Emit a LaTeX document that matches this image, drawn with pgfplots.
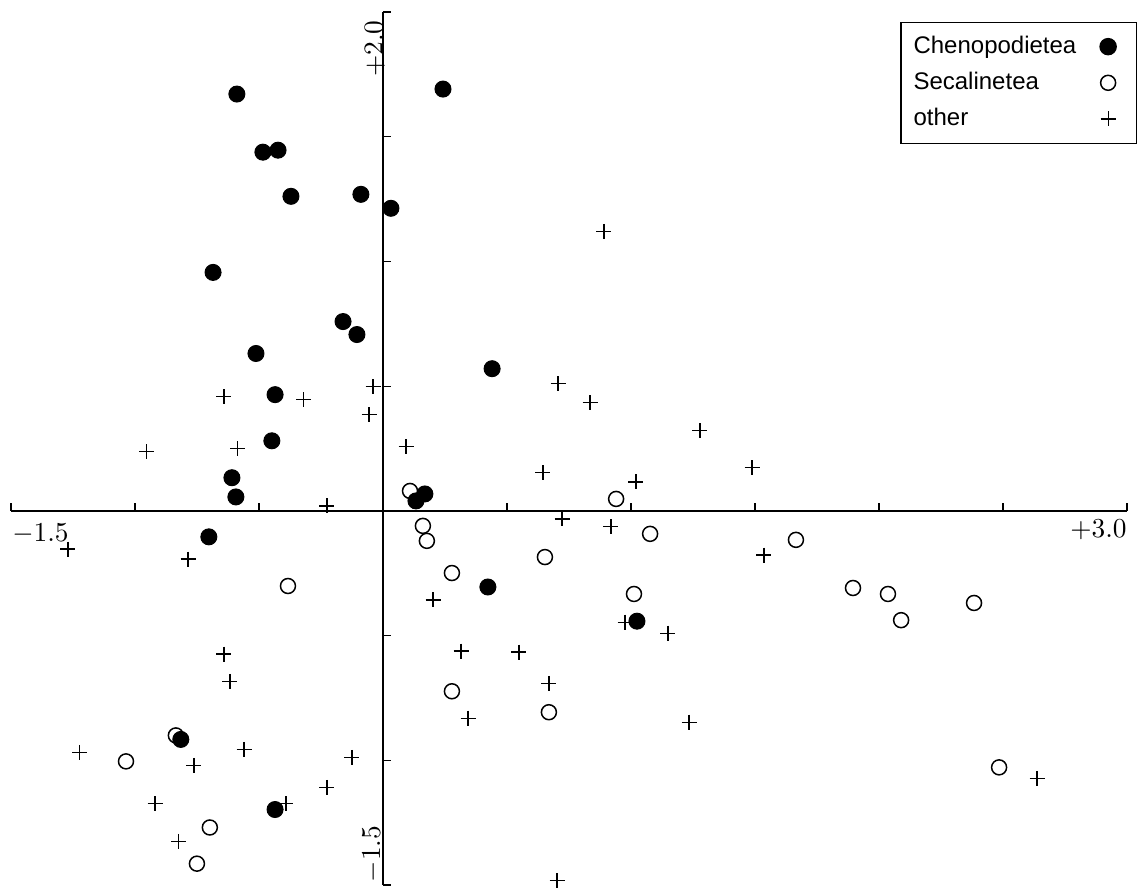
\documentclass[border=0pt]{standalone}
\usepackage{fontspec}
\setmainfont{Liberation Sans}
\usepackage{pgfplots}
\pgfplotsset{compat=1.18}
\begin{document}
\begin{tikzpicture}
\begin{axis}[
  scale only axis,
  width=446.4pt, height=349.2pt,
  xmin=-1.5, xmax=3.0, ymin=-1.5, ymax=2.0,
  axis lines=middle,
  axis line style={-, line width=0.8pt},
  xtick={-1.5,-1,-0.5,0,0.5,1,1.5,2,2.5,3},
  ytick={-1.5,-1,-0.5,0,0.5,1,1.5,2},
  xticklabels={}, yticklabels={},
  tick align=inside,
  major tick length=3.2pt,
  tick style={line width=0.5pt, black},
  clip=false,
  legend plot pos=right,
  legend cell align=left,
  reverse legend,
  legend image code/.code={\draw[#1] plot coordinates {(10.4pt,0pt)}; \path (0pt,0pt) (18.4pt,0pt);},
  legend style={at={(1.009,0.989)}, anchor=north east, draw=black, line width=0.6pt,
    font=\fontsize{9.6}{11.5}\selectfont, row sep=2pt, inner xsep=3pt, inner ysep=3.5pt},
]
% other
\addplot[only marks, mark=+, mark size=3pt, black, mark options={line width=0.5pt}] coordinates {
(0.891,1.120) (0.706,0.510) (0.835,0.434) (-0.040,0.498) (-0.641,0.458)
(-0.319,0.446) (-0.056,0.386) (1.278,0.321) (-0.952,0.237) (-0.585,0.249)
(0.093,0.257) (0.645,0.153) (1.488,0.173) (1.020,0.116) (-0.226,0.020)
(0.722,-0.032) (0.919,-0.064) (-1.270,-0.153) (-0.786,-0.193) (1.536,-0.177)
(0.202,-0.357) (0.976,-0.446) (1.149,-0.490) (0.315,-0.562) (0.548,-0.566)
(-0.641,-0.574) (-0.617,-0.683) (0.669,-0.691) (0.343,-0.831) (1.234,-0.847)
(-1.222,-0.968) (-0.560,-0.956) (-0.762,-1.020) (-0.125,-0.988) (-0.919,-1.173)
(-0.391,-1.173) (-0.226,-1.108) (-0.823,-1.325) (2.637,-1.072) (0.702,-1.482)
};
% Secalinetea
\addplot[only marks, mark=o, mark size=3pt, black, mark options={line width=0.6pt}] coordinates {
(0.109,0.080) (0.940,0.048) (0.161,-0.060) (0.177,-0.120) (1.077,-0.092)
(0.653,-0.185) (1.665,-0.116) (-0.383,-0.301) (0.278,-0.249) (1.012,-0.333)
(1.895,-0.309) (2.036,-0.333) (2.089,-0.438) (2.383,-0.369) (0.278,-0.723)
(0.669,-0.807) (-0.835,-0.900) (-1.036,-1.004) (2.484,-1.028) (-0.698,-1.269)
(-0.750,-1.414)
};
% Chenopodietea
\addplot[only marks, mark=*, mark size=3.2pt, black, mark options={fill=black}] coordinates {
(-0.589,1.671) (0.242,1.691) (-0.484,1.438) (-0.423,1.446) (-0.371,1.261)
(-0.089,1.269) (0.032,1.213) (-0.685,0.956) (-0.161,0.759) (-0.105,0.707)
(-0.512,0.631) (0.440,0.570) (-0.435,0.466) (-0.448,0.281) (-0.609,0.133)
(-0.593,0.056) (0.169,0.068) (0.133,0.040) (-0.702,-0.104) (0.423,-0.305)
(1.024,-0.442) (-0.815,-0.916) (-0.435,-1.197)
};
\legend{other,Secalinetea,Chenopodietea}
\node[anchor=north west, inner sep=0pt, font=\fontsize{11}{13}\selectfont] at (axis cs:-1.496,-0.05) {$-1.5$};
\node[anchor=north east, inner sep=0pt, font=\fontsize{11}{13}\selectfont] at (axis cs:3.0,-0.035) {$+3.0$};
\node[rotate=90, anchor=south east, inner sep=0pt, font=\fontsize{11}{13}\selectfont] at (axis cs:0.01,1.968) {$+2.0$};
\node[rotate=90, anchor=south west, inner sep=0pt, font=\fontsize{11}{13}\selectfont] at (axis cs:0,-1.49) {$-1.5$};
\coordinate (BL) at (axis cs:-1.544,-1.510);
\coordinate (TR) at (axis cs:3.040,2.048);
\end{axis}
\pgfresetboundingbox
\path[use as bounding box] (BL) rectangle (TR);
\end{tikzpicture}
\end{document}
